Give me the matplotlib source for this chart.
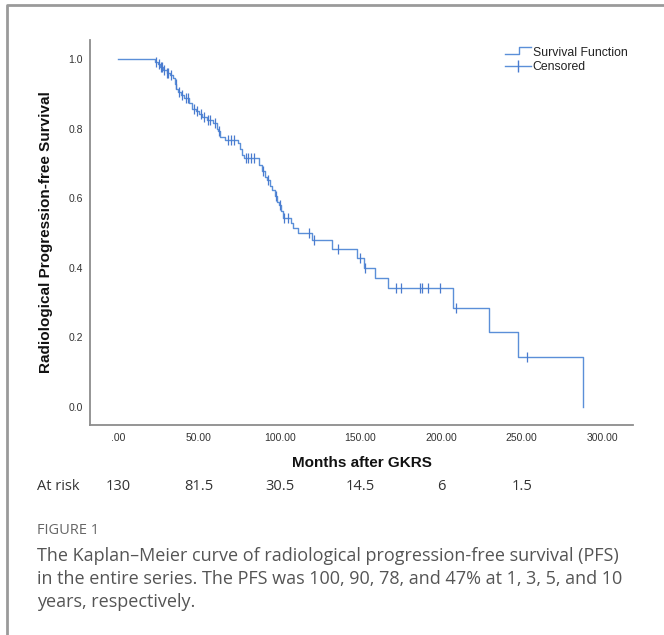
import matplotlib
matplotlib.use("Agg")
import matplotlib.pyplot as plt
import numpy as np
from matplotlib.lines import Line2D
from matplotlib.legend_handler import HandlerBase
from matplotlib.transforms import blended_transform_factory

plt.rcParams['font.family'] = ['Liberation Sans', 'DejaVu Sans']

# Kaplan-Meier steps (months, survival after the drop)
event_months = [0, 23, 24.5, 26, 28, 30, 32, 34, 35, 36, 37, 39, 41, 44, 46, 48, 50,
                52, 55, 59, 61, 62, 63, 66, 74, 75.5, 77, 78, 87, 89, 91, 92, 94,
                95.5, 97, 98.5, 99.5, 101, 102, 107, 108.5, 111.5, 120, 132.7, 148,
                152, 159, 167.4, 207.7, 229.6, 248, 288]
survival = [1.0, 0.992, 0.985, 0.977, 0.969, 0.961, 0.953, 0.945, 0.929, 0.913, 0.905,
            0.897, 0.889, 0.874, 0.858, 0.850, 0.842, 0.834, 0.826, 0.817, 0.800,
            0.792, 0.775, 0.767, 0.758, 0.741, 0.724, 0.715, 0.697, 0.679, 0.661,
            0.652, 0.634, 0.625, 0.607, 0.589, 0.580, 0.562, 0.543, 0.528, 0.514,
            0.499, 0.480, 0.455, 0.428, 0.400, 0.371, 0.342, 0.285, 0.214, 0.143, 0.0]

# censored observations (months)
censored_months = [23.5, 25, 26.5, 27, 28.5, 30.5, 31, 33, 35.5, 37.5, 39.5, 42, 43, 47,
                   48.5, 51, 53, 55.5, 57, 60, 62.5, 68, 70, 72, 79, 80.5, 82, 84, 90,
                   93, 97.5, 100, 103, 105, 118, 121.5, 136, 150, 153, 172.4, 175.3,
                   187.2, 188.2, 192.2, 199.6, 209.3, 253.4]

x_ticks = [0, 50, 100, 150, 200, 250, 300]
x_tick_labels = ['.00', '50.00', '100.00', '150.00', '200.00', '250.00', '300.00']
y_ticks = [0.0, 0.2, 0.4, 0.6, 0.8, 1.0]
y_tick_labels = ['0.0', '0.2', '0.4', '0.6', '0.8', '1.0']

risk_months = [0, 50, 100, 150, 200, 250]
risk_labels = ['130', '81.5', '30.5', '14.5', '6', '1.5']

caption_head = 'FIGURE 1'
caption_lines = ['The Kaplan\u2013Meier curve of radiological progression-free survival (PFS)',
                 'in the entire series. The PFS was 100, 90, 78, and 47% at 1, 3, 5, and 10',
                 'years, respectively.']

LINE_C = '#5b8fd8'
MARK_C = '#4a7bcf'


class StepHandler(HandlerBase):
    # little step shape like the SPSS legend
    def create_artists(self, legend, orig_handle, xdescent, ydescent,
                       width, height, fontsize, trans):
        xs = [0, width * 0.55, width * 0.55, width]
        ys = [height * 0.15, height * 0.15, height * 0.95, height * 0.95]
        ln = Line2D(xs, ys, color=LINE_C, lw=1.0, transform=trans)
        return [ln]


W, H = 664, 635
fig = plt.figure(figsize=(W / 100, H / 100), dpi=100)
ax = fig.add_axes([90 / W, 1 - 425 / H, (633 - 90) / W, (425 - 40) / H])

ax.step(event_months, survival, where='post', color=LINE_C, lw=1.0)

# place censor marks on the curve
idx = np.searchsorted(event_months, censored_months, side='right') - 1
cens_y = [survival[i] for i in idx]
ax.plot(censored_months, cens_y, linestyle='none', marker='|', markersize=7,
        markeredgewidth=0.9, color=MARK_C)

ax.set_xlim(-17.5, 319)
ax.set_ylim(-0.052, 1.055)
ax.set_xticks(x_ticks)
ax.set_xticklabels(x_tick_labels)
ax.set_yticks(y_ticks)
ax.set_yticklabels(y_tick_labels)
ax.tick_params(length=0, labelsize=7.5, labelcolor='#333333', pad=5)
ax.tick_params(axis='x', pad=6)

for s in ['top', 'right']:
    ax.spines[s].set_visible(False)
for s in ['left', 'bottom']:
    ax.spines[s].set_color('#8c8c8c')
    ax.spines[s].set_linewidth(1.3)

ax.set_ylabel('Radiological Progression-free Survival', fontsize=11, fontweight='bold',
              color='#111111', labelpad=11)
ax.set_xlabel('Months after GKRS', fontsize=11, fontweight='bold', color='#111111',
              labelpad=9)

h_surv = Line2D([], [], color=LINE_C)
h_cens = Line2D([], [], color=LINE_C, lw=1.0, marker='|', markersize=9,
                markeredgecolor=MARK_C)
leg = ax.legend([h_surv, h_cens], ['Survival Function', 'Censored'],
                handler_map={h_surv: StepHandler()}, frameon=False, fontsize=8.8,
                loc='upper right', bbox_to_anchor=(636 / W, 1 - 38 / H),
                bbox_transform=fig.transFigure, handlelength=2.2, handletextpad=0.1,
                labelspacing=0.2, borderpad=0.2)
for t in leg.get_texts():
    t.set_color('#222222')

# at risk row
tr = blended_transform_factory(ax.transData, fig.transFigure)
fig.text(37 / W, 1 - 486 / H, 'At risk', fontsize=10.5, family='Open Sans',
         color='#333333', va='center', ha='left')
for m, lab in zip(risk_months, risk_labels):
    ax.text(m, 1 - 486 / H, lab, transform=tr, fontsize=10.5, family='Open Sans',
            color='#333333', va='center', ha='center', clip_on=False)

# caption
fig.text(37 / W, 1 - 531 / H, caption_head, fontsize=10.5, family='Open Sans',
         color='#666666', va='center', ha='left')
for i, line in enumerate(caption_lines):
    fig.text(37 / W, 1 - (556 + 23 * i) / H, line, fontsize=13, family='Open Sans',
             color='#555555', va='center', ha='left')

# grey frame (top and left edge of the page box)
fig.add_artist(Line2D([7 / W, 7 / W, 1], [0, 1 - 5 / H, 1 - 5 / H],
                      transform=fig.transFigure, color='#9a9a9a', lw=2.0))

fig.savefig('out.png', dpi=100)
